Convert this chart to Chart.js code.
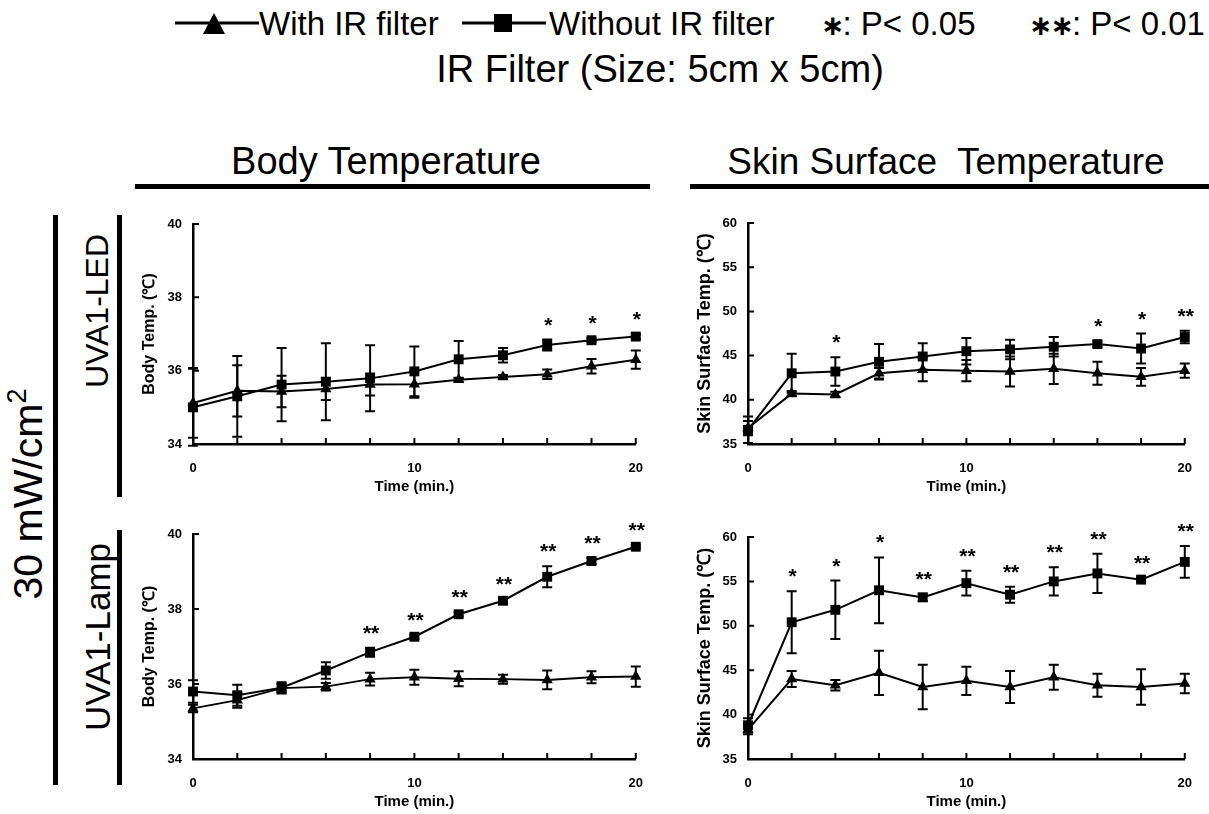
<!DOCTYPE html>
<html>
<head>
<meta charset="utf-8">
<script src="https://cdn.jsdelivr.net/npm/chart.js@4.4.1/dist/chart.umd.min.js"></script>
<style>
  html, body { margin: 0; padding: 0; background: #fff; }
  #page { position: relative; width: 1209px; height: 814px; overflow: hidden;
          font-family: "Liberation Sans", Arial, sans-serif; color: #000; }
  .txt { position: absolute; white-space: nowrap; line-height: 1; }
  .ctr { transform: translate(-50%, -50%); }
  .rot { transform: translate(-50%, -50%) rotate(-90deg); }
  .bar { position: absolute; background: #000; }
  .star { font-family: "DejaVu Sans", sans-serif; font-weight: bold; font-size: 28px; letter-spacing: -2px; }
  canvas { position: absolute; }
</style>
</head>
<body>
<div id="page">
  <!-- legend -->
  <svg class="txt" style="left:175px; top:10px" width="84" height="26">
    <line x1="0" y1="13" x2="84" y2="13" stroke="#000" stroke-width="3"/>
    <polygon points="28,24 50,24 39,3" fill="#000"/>
  </svg>
  <div class="txt" style="left:259px; top:7px; font-size:33px">With IR filter</div>
  <svg class="txt" style="left:462px; top:10px" width="84" height="26">
    <line x1="0" y1="13" x2="84" y2="13" stroke="#000" stroke-width="3"/>
    <rect x="32" y="4" width="18" height="18" fill="#000"/>
  </svg>
  <div class="txt" style="left:549px; top:7px; font-size:33px">Without IR filter</div>
  <div class="txt" style="left:821px; top:7px; font-size:33px"><span class="star">∗</span>: P&lt; 0.05</div>
  <div class="txt" style="left:1029px; top:7px; font-size:33px"><span class="star">∗∗</span>: P&lt; 0.01</div>

  <div class="txt ctr" style="left:660px; top:69px; font-size:38px">IR Filter (Size: 5cm x 5cm)</div>
  <div class="txt ctr" style="left:386px; top:161px; font-size:38px">Body Temperature</div>
  <div class="txt ctr" style="left:946px; top:161px; font-size:37px">Skin Surface&nbsp; Temperature</div>
  <div class="bar" style="left:135px; top:184px; width:515px; height:5px"></div>
  <div class="bar" style="left:690px; top:184px; width:519px; height:5px"></div>

  <div class="txt rot" style="left:26px; top:494px; font-size:41px">30 mW/cm<sup style="font-size:27px; vertical-align:16px">2</sup></div>
  <div class="bar" style="left:53px; top:215px; width:5px; height:570px"></div>
  <div class="txt rot" style="left:97px; top:311px; font-size:32px">UVA1-LED</div>
  <div class="txt rot" style="left:97px; top:637px; font-size:35px">UVA1-Lamp</div>
  <div class="bar" style="left:117px; top:215px; width:5px; height:282px"></div>
  <div class="bar" style="left:117px; top:530px; width:5px; height:255px"></div>

  <canvas id="ledBody"></canvas>
  <canvas id="ledSkin"></canvas>
  <canvas id="lampBody"></canvas>
  <canvas id="lampSkin"></canvas>
</div>

<script>
const minutes = [0, 2, 4, 6, 8, 10, 12, 14, 16, 18, 20];

// UVA1-LED, body temperature (mean and SD)
const ledBodyWith      = [35.12, 35.45, 35.43, 35.5, 35.62, 35.63, 35.75, 35.83, 35.9, 36.12, 36.3];
const ledBodyWithSd    = [0.95, 0.7, 0.43, 0.3, 0.3, 0.37, 0.05, 0.05, 0.13, 0.2, 0.25];
const ledBodyWithout   = [35.0, 35.3, 35.62, 35.7, 35.79, 35.98, 36.31, 36.42, 36.7, 36.83, 36.93];
const ledBodyWithoutSd = [1.05, 1.1, 1.0, 1.05, 0.9, 0.68, 0.5, 0.2, 0.15, 0.05, 0.06];
const ledBodyStars     = ['', '', '', '', '', '', '', '', '*', '*', '*'];

// UVA1-LED, skin surface temperature
const ledSkinWith      = [36.8, 40.7, 40.6, 43.0, 43.4, 43.3, 43.2, 43.5, 43.0, 42.6, 43.3];
const ledSkinWithSd    = [0.8, 0.3, 0.3, 0.6, 1.3, 1.2, 1.7, 1.7, 1.3, 1.0, 0.8];
const ledSkinWithout   = [36.6, 43.0, 43.2, 44.3, 44.9, 45.5, 45.7, 46.0, 46.3, 45.8, 47.1];
const ledSkinWithoutSd = [1.5, 2.2, 1.6, 2.0, 1.5, 1.5, 1.1, 1.1, 0.3, 1.7, 0.7];
const ledSkinStars     = ['', '', '*', '', '', '', '', '', '*', '*', '**'];

// UVA1-Lamp, body temperature
const lampBodyWith      = [35.35, 35.57, 35.89, 35.93, 36.13, 36.18, 36.14, 36.13, 36.11, 36.18, 36.2];
const lampBodyWithSd    = [0.1, 0.2, 0.12, 0.1, 0.17, 0.2, 0.2, 0.12, 0.25, 0.16, 0.27];
const lampBodyWithout   = [35.8, 35.7, 35.9, 36.36, 36.85, 37.26, 37.86, 38.22, 38.86, 39.28, 39.66];
const lampBodyWithoutSd = [0.3, 0.28, 0.15, 0.22, 0.12, 0.05, 0.05, 0.06, 0.28, 0.08, 0.04];
const lampBodyStars     = ['', '', '', '', '**', '**', '**', '**', '**', '**', '**'];

// UVA1-Lamp, skin surface temperature
const lampSkinWith      = [38.3, 44.0, 43.3, 44.7, 43.1, 43.8, 43.1, 44.2, 43.3, 43.1, 43.5];
const lampSkinWithSd    = [0.5, 0.9, 0.6, 2.5, 2.5, 1.6, 1.8, 1.4, 1.3, 2.0, 1.1];
const lampSkinWithout   = [38.8, 50.4, 51.8, 54.0, 53.2, 54.8, 53.5, 55.0, 55.9, 55.2, 57.2];
const lampSkinWithoutSd = [0.8, 3.5, 3.3, 3.7, 0.4, 1.4, 0.9, 1.6, 2.2, 0.2, 1.8];
const lampSkinStars     = ['', '*', '*', '*', '**', '**', '**', '**', '**', '**', '**'];

const bodyTicks = [34, 36, 38, 40];
const skinTicks = [35, 40, 45, 50, 55, 60];
const timeLabels = [0, 10, 20];

const FONT = "'Liberation Sans', Arial, sans-serif";

// short tick marks pointing into the plot, error bars and significance marks
const decorations = {
  id: 'decorations',
  beforeDatasetsDraw(chart) {
    const { ctx, chartArea: a, scales: { x, y } } = chart;
    ctx.save();
    ctx.strokeStyle = '#000';
    ctx.lineWidth = 2;
    ctx.beginPath();
    minutes.forEach(m => {
      const px = x.getPixelForValue(m);
      ctx.moveTo(px, a.bottom);
      ctx.lineTo(px, a.bottom - 6);
    });
    y.ticks.forEach(t => {
      const py = y.getPixelForValue(t.value);
      ctx.moveTo(a.left, py);
      ctx.lineTo(a.left + 6, py);
    });
    ctx.stroke();
    ctx.restore();
  },
  afterDatasetsDraw(chart, args, opts) {
    const { ctx, scales: { x, y } } = chart;
    ctx.save();
    ctx.strokeStyle = '#000';
    ctx.lineWidth = 2;
    const tops = minutes.map(() => -Infinity);
    chart.data.datasets.forEach(ds => {
      ds.data.forEach((p, j) => {
        const px = x.getPixelForValue(p.x);
        const hi = y.getPixelForValue(p.y + ds.sd[j]);
        const lo = y.getPixelForValue(p.y - ds.sd[j]);
        ctx.beginPath();
        ctx.moveTo(px, hi); ctx.lineTo(px, lo);
        ctx.moveTo(px - 5, hi); ctx.lineTo(px + 5, hi);
        ctx.moveTo(px - 5, lo); ctx.lineTo(px + 5, lo);
        ctx.stroke();
        tops[j] = Math.max(tops[j], p.y + ds.sd[j]);
      });
    });
    ctx.fillStyle = '#000';
    ctx.font = 'bold 21px ' + FONT;
    ctx.textAlign = 'center';
    ctx.textBaseline = 'alphabetic';
    opts.marks.forEach((s, j) => {
      if (!s) return;
      ctx.fillText(s, x.getPixelForValue(minutes[j]) + 1, y.getPixelForValue(tops[j]) - 8);
    });
    ctx.restore();
  }
};

function makePanel(id, box, plot, yRange, yTicks, yTitle, yTitleSize, withVals, withSd, withoutVals, withoutSd, marks) {
  const canvas = document.getElementById(id);
  canvas.width = box.w;
  canvas.height = box.h;
  canvas.style.left = box.x + 'px';
  canvas.style.top = box.y + 'px';

  const yAxisWidth = plot.left - box.x;
  const xAxisHeight = box.y + box.h - plot.bottom;
  const titleLine = 15 * 1.2;
  const yTitleLine = yTitleSize * 1.2;

  const series = (vals) => minutes.map((m, i) => ({ x: m, y: vals[i] }));
  const line = (label, vals, sd, style, radius) => ({
    label, data: series(vals), sd,
    borderColor: '#000', backgroundColor: '#000', borderWidth: 2,
    pointStyle: style, pointRadius: radius, pointHoverRadius: radius,
    pointBorderWidth: 0, tension: 0, clip: false
  });

  return new Chart(canvas, {
    type: 'line',
    data: {
      datasets: [
        line('With IR filter', withVals, withSd, 'triangle', 6.5),
        line('Without IR filter', withoutVals, withoutSd, 'rect', 7)
      ]
    },
    options: {
      responsive: false,
      animation: false,
      events: [],
      layout: {
        padding: { left: 0, bottom: 0, top: plot.top - box.y, right: box.x + box.w - plot.right }
      },
      plugins: {
        legend: { display: false },
        tooltip: { enabled: false },
        decorations: { marks }
      },
      scales: {
        x: {
          type: 'linear', min: 0, max: 20, offset: false,
          afterFit: s => { s.height = xAxisHeight; },
          afterBuildTicks: s => { s.ticks = timeLabels.map(v => ({ value: v })); },
          grid: { display: false, drawTicks: false },
          border: { display: true, color: '#000', width: 2.5 },
          ticks: { color: '#000', padding: 17, maxRotation: 0, font: { family: FONT, size: 13, weight: 'bold' } },
          title: {
            display: true, text: 'Time (min.)', color: '#000',
            font: { family: FONT, size: 15, weight: 'bold' },
            padding: { top: 0, bottom: (box.y + box.h) - (plot.bottom + 43) - titleLine / 2 }
          }
        },
        y: {
          type: 'linear', min: yRange[0], max: yRange[1],
          afterFit: s => { s.width = yAxisWidth; },
          afterBuildTicks: s => { s.ticks = yTicks.map(v => ({ value: v })); },
          grid: { display: false, drawTicks: false },
          border: { display: true, color: '#000', width: 2.5 },
          ticks: { color: '#000', padding: 11, font: { family: FONT, size: 13, weight: 'bold' } },
          title: {
            display: true, text: yTitle, color: '#000',
            font: { family: FONT, size: yTitleSize, weight: 'bold' },
            padding: { top: 20 - yTitleLine / 2, bottom: 0 }
          }
        }
      }
    },
    plugins: [decorations]
  });
}

makePanel('ledBody', { x: 130, y: 200, w: 530, h: 300 }, { left: 193, top: 224, right: 637, bottom: 444 },
  [34, 40], bodyTicks, 'Body Temp. (℃)', 16,
  ledBodyWith, ledBodyWithSd, ledBodyWithout, ledBodyWithoutSd, ledBodyStars);

makePanel('ledSkin', { x: 685, y: 200, w: 524, h: 300 }, { left: 748, top: 223, right: 1191, bottom: 444 },
  [35, 60], skinTicks, 'Skin Surface Temp. (℃)', 18,
  ledSkinWith, ledSkinWithSd, ledSkinWithout, ledSkinWithoutSd, ledSkinStars);

makePanel('lampBody', { x: 130, y: 505, w: 530, h: 309 }, { left: 193, top: 534, right: 637, bottom: 759 },
  [34, 40], bodyTicks, 'Body Temp. (℃)', 16,
  lampBodyWith, lampBodyWithSd, lampBodyWithout, lampBodyWithoutSd, lampBodyStars);

makePanel('lampSkin', { x: 685, y: 505, w: 524, h: 309 }, { left: 748, top: 537, right: 1191, bottom: 759 },
  [35, 60], skinTicks, 'Skin Surface Temp. (℃)', 18,
  lampSkinWith, lampSkinWithSd, lampSkinWithout, lampSkinWithoutSd, lampSkinStars);
</script>
</body>
</html>
